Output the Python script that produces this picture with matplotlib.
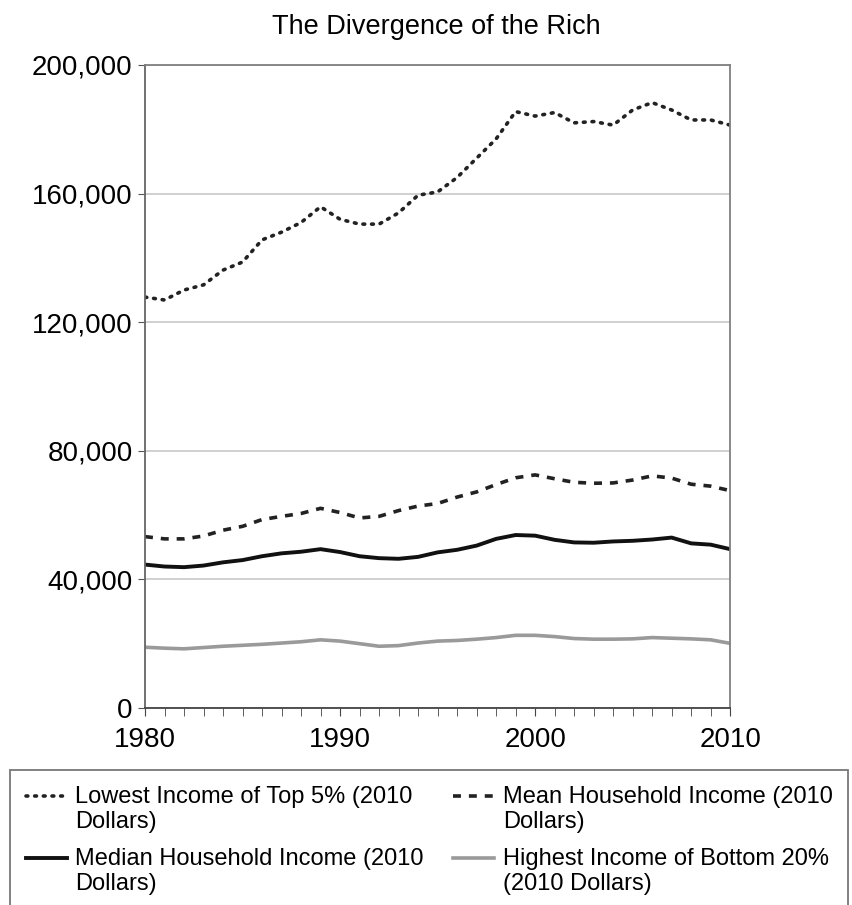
import matplotlib.pyplot as plt
import matplotlib as mpl
import numpy as np

plt.rcParams['font.family'] = ['Liberation Sans', 'DejaVu Sans']

years = list(range(1980, 2011))

# 2010 dollars
top5_low = [127800, 126900, 130000, 131600, 136200, 138700, 145600, 148000, 151000, 155900,
            152000, 150500, 150500, 154000, 159500, 160500, 165000, 171000, 177000, 185500,
            184100, 185200, 182000, 182400, 181300, 186000, 188300, 186000, 182900, 182900, 181300]
mean_hh = [53300, 52600, 52600, 53500, 55300, 56500, 58600, 59600, 60500, 62100,
           60800, 59100, 59600, 61400, 62800, 63600, 65600, 67200, 69500, 71600,
           72500, 71300, 70200, 69900, 70000, 70900, 72200, 71500, 69600, 69000, 67600]
median_hh = [44600, 44000, 43800, 44300, 45300, 46000, 47200, 48100, 48600, 49400,
             48500, 47200, 46600, 46400, 47000, 48400, 49200, 50500, 52600, 53800,
             53600, 52300, 51500, 51400, 51800, 52000, 52400, 53000, 51200, 50800, 49400]
bottom20_high = [18900, 18600, 18400, 18800, 19200, 19500, 19800, 20200, 20600, 21200,
                 20800, 20000, 19200, 19400, 20200, 20800, 21000, 21400, 21900, 22600,
                 22600, 22200, 21600, 21400, 21400, 21500, 21900, 21700, 21500, 21200, 20100]

labels = ['Lowest Income of Top 5% (2010\nDollars)',
          'Mean Household Income (2010\nDollars)',
          'Median Household Income (2010\nDollars)',
          'Highest Income of Bottom 20%\n(2010 Dollars)']

fig = plt.figure(figsize=(8.53, 9.05), dpi=100)
ax = fig.add_axes([0.170, 0.2177, 0.686, 0.7105])

l1, = ax.plot(years, top5_low, color='#222222', lw=2.6, linestyle=(0, (0.5, 1.9)),
              dash_capstyle='round', label=labels[0])
l2, = ax.plot(years, mean_hh, color='#222222', lw=2.6, linestyle=(0, (2.2, 2.2)), label=labels[1])
l3, = ax.plot(years, median_hh, color='#111111', lw=2.8, label=labels[2])
l4, = ax.plot(years, bottom20_high, color='#9a9a9a', lw=2.6, label=labels[3])

ax.set_xlim(1980, 2010)
ax.set_ylim(0, 200000)
ax.set_yticks(range(0, 200001, 40000))
ax.yaxis.set_major_formatter(mpl.ticker.FuncFormatter(lambda v, p: '{:,.0f}'.format(v)))
ax.set_xticks([1980, 1990, 2000, 2010])
ax.set_xticks(years, minor=True)
ax.grid(axis='y', color='#c8c8c8', lw=1.2)
ax.set_axisbelow(True)
for s in ax.spines.values():
    s.set_color('#808080')
    s.set_linewidth(1.3)
ax.spines['bottom'].set_color('#444444')
ax.spines['left'].set_color('#666666')
ax.tick_params(axis='y', labelsize=20, length=5, color='#555555', pad=4)
ax.tick_params(axis='x', which='both', labelsize=20, length=6, color='#444444', pad=8)

fig.suptitle('The Divergence of the Rich', x=0.512, y=0.985, fontsize=19.5)

# legend box runs off the bottom edge like in the scan
leg = fig.legend([l1, l3, l2, l4], [labels[0], labels[2], labels[1], labels[3]],
                 ncol=2, loc='upper left', bbox_to_anchor=(0.012, 0.149, 0.982, 0.0),
                 mode='expand', borderaxespad=0, fontsize=17,
                 frameon=True, fancybox=False, edgecolor='#555555', handlelength=1.75,
                 handletextpad=0.35, columnspacing=0.3, labelspacing=0.62, borderpad=0.65)
leg.get_frame().set_linewidth(1.3)
# put the sample lines next to the first text line, not the middle
for h in leg.legend_handles:
    h.set_ydata(np.asarray(h.get_ydata()) + 9.5)

fig.savefig('out.png', dpi=100)
